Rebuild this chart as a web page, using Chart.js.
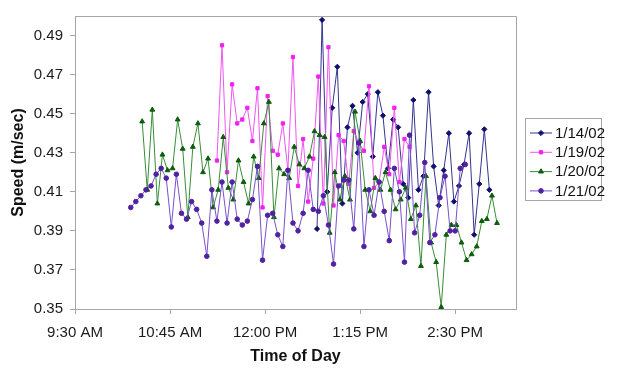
<!DOCTYPE html>
<html><head><meta charset="utf-8">
<script src="https://cdn.jsdelivr.net/npm/chart.js@4/dist/chart.umd.min.js"></script>
<style>html,body{margin:0;padding:0;background:#fff}#wrap{width:619px;height:371px}</style>
</head><body><div id="wrap"><canvas id="c" width="619" height="371"></canvas></div>
<script>
const seriesNames = ['1/14/02','1/19/02','1/20/02','1/21/02'];

const times0114 = ['12:41','12:45','12:49','12:53','12:57','13:01','13:05','13:09','13:13','13:17',
 '13:21','13:25','13:29','13:33','13:37','13:41','13:45','13:49','13:53','13:57',
 '14:01','14:05','14:09','14:13','14:17','14:21','14:25','14:29','14:33','14:37',
 '14:41','14:45','14:49','14:53','14:57'];
const speeds0114 = [0.391,0.498,0.410,0.453,0.474,0.404,0.443,0.454,0.430,0.456,
 0.460,0.428,0.461,0.449,0.422,0.447,0.443,0.414,0.407,0.457,
 0.411,0.418,0.461,0.423,0.403,0.421,0.440,0.405,0.413,0.424,
 0.440,0.388,0.414,0.442,0.411];

const times0119 = ['11:22','11:26','11:30','11:34','11:38','11:42','11:46','11:50','11:54','11:58',
 '12:02','12:06','12:10','12:14','12:18','12:22','12:26','12:30','12:34','12:38',
 '12:42','12:46','12:50','12:54','12:58','13:02','13:06','13:10','13:14','13:18',
 '13:22','13:26','13:30','13:34','13:38','13:42','13:46','13:50','13:54'];
const speeds0119 = [0.426,0.485,0.420,0.465,0.445,0.447,0.453,0.436,0.463,0.402,
 0.459,0.431,0.429,0.445,0.421,0.479,0.413,0.437,0.405,0.427,
 0.469,0.404,0.484,0.403,0.439,0.436,0.414,0.441,0.435,0.431,
 0.464,0.412,0.415,0.433,0.419,0.453,0.415,0.437,0.433];

const times0120 = ['10:23','10:27','10:31','10:35','10:39','10:43','10:47','10:51','10:55','10:59',
 '11:03','11:07','11:11','11:15','11:19','11:23','11:27','11:31','11:35','11:39',
 '11:43','11:47','11:51','11:55','11:59','12:03','12:07','12:11','12:15','12:19',
 '12:23','12:27','12:31','12:35','12:39','12:43','12:47','12:51','12:55','12:59',
 '13:03','13:07','13:11','13:15','13:19','13:23','13:27','13:31','13:35','13:39',
 '13:43','13:47','13:51','13:55','13:59','14:03','14:07','14:11','14:15','14:19',
 '14:23','14:27','14:31','14:35','14:39','14:43','14:47','14:51','14:55','14:59',
 '15:03'];
const speeds0120 = [0.446,0.411,0.452,0.404,0.429,0.421,0.422,0.447,0.432,0.397,
 0.433,0.445,0.420,0.427,0.402,0.411,0.438,0.412,0.406,0.426,
 0.415,0.404,0.428,0.417,0.445,0.456,0.397,0.422,0.419,0.417,
 0.433,0.424,0.422,0.428,0.441,0.439,0.438,0.389,0.420,0.406,
 0.418,0.406,0.451,0.436,0.411,0.400,0.417,0.411,0.420,0.411,
 0.401,0.406,0.412,0.396,0.403,0.372,0.418,0.384,0.374,0.351,
 0.388,0.393,0.393,0.384,0.375,0.378,0.382,0.395,0.396,0.408,
 0.394];

const times0121 = ['10:14','10:18','10:22','10:26','10:30','10:34','10:38','10:42','10:46','10:50',
 '10:54','10:58','11:02','11:06','11:10','11:14','11:18','11:22','11:26','11:30',
 '11:34','11:38','11:42','11:46','11:50','11:54','11:58','12:02','12:06','12:10',
 '12:14','12:18','12:22','12:26','12:30','12:34','12:38','12:42','12:46','12:50',
 '12:54','12:58','13:02','13:06','13:10','13:14','13:18','13:22','13:26','13:30',
 '13:34','13:38','13:42','13:46','13:50','13:54','13:58','14:02','14:06','14:10',
 '14:14','14:18','14:22','14:26','14:30','14:34','14:38'];
const speeds0121 = [0.402,0.405,0.408,0.411,0.413,0.419,0.422,0.417,0.392,0.419,
 0.399,0.396,0.405,0.401,0.394,0.377,0.411,0.395,0.415,0.394,
 0.415,0.396,0.393,0.395,0.406,0.423,0.375,0.398,0.399,0.388,
 0.382,0.421,0.394,0.390,0.399,0.421,0.401,0.400,0.408,0.393,
 0.373,0.413,0.416,0.416,0.391,0.435,0.382,0.411,0.398,0.415,
 0.400,0.385,0.422,0.410,0.374,0.439,0.389,0.398,0.425,0.384,
 0.388,0.407,0.418,0.390,0.390,0.422,0.424];

const xTickLabels = ['9:30 AM','10:45 AM','12:00 PM','1:15 PM','2:30 PM'];
const yTickValues = [0.35,0.37,0.39,0.41,0.43,0.45,0.47,0.49];
const xAxisMin = '9:30 AM';
const xAxisMax = '3:18 PM';
const yAxisMin = 0.35, yAxisMax = 0.50;

function toMin(s){
  const m = s.match(/(\d+):(\d+)\s*(AM|PM)?/);
  let h = +m[1], mi = +m[2];
  if (m[3]==='PM' && h<12) h+=12;
  if (m[3]==='AM' && h===12) h=0;
  return h*60+mi;
}
function fmt(v){
  let h = Math.floor(v/60), mi = Math.round(v%60);
  const ap = h>=12?'PM':'AM';
  let hh = h%12; if (hh===0) hh=12;
  return hh+':'+String(mi).padStart(2,'0')+' '+ap;
}
const xTickValues = xTickLabels.map(toMin);

const lineColors = ['#34348e','#f055f0','#388e38','#7a50cc'];
const markColors = ['#101070','#f020f0','#0c5c0c','#4f22a0'];
const styles = ['rectRot','rect','triangle','circle'];
const radii = [2.6,2.3,2.8,2.3];
const allTimes = [times0114,times0119,times0120,times0121];
const allSpeeds = [speeds0114,speeds0119,speeds0120,speeds0121];

const datasets = seriesNames.map((n,i)=>({
  label:n,
  data: allTimes[i].map((t,j)=>({x:toMin(t), y:allSpeeds[i][j]})),
  borderColor: lineColors[i], backgroundColor: markColors[i],
  pointBorderColor: markColors[i], pointBackgroundColor: markColors[i],
  pointStyle: styles[i], pointRadius: radii[i], pointBorderWidth: 1,
  borderWidth: 1, tension: 0, order: 4-i, clip: 6
}));

const FONT = '"Liberation Sans", Arial, sans-serif';

const framePlugin = {
  id:'frame',
  beforeDatasetsDraw(chart){
    const {ctx, chartArea:a} = chart;
    ctx.save(); ctx.strokeStyle='#a6a6a6'; ctx.lineWidth=1;
    ctx.beginPath();
    ctx.moveTo(Math.round(a.left)+0.5, Math.round(a.top)+0.5);
    ctx.lineTo(Math.round(a.right)+0.5, Math.round(a.top)+0.5);
    ctx.lineTo(Math.round(a.right)+0.5, Math.round(a.bottom)+0.5);
    ctx.stroke(); ctx.restore();
  },
  afterDraw(chart){
    const ctx = chart.ctx;
    ctx.save();
    ctx.strokeStyle='#a6a6a6'; ctx.lineWidth=1;
    ctx.strokeRect(525.5,118.5,76,82);
    seriesNames.forEach((name,i)=>{
      const y = 133 + i*19.3;
      ctx.strokeStyle=lineColors[i]; ctx.lineWidth=1;
      ctx.beginPath(); ctx.moveTo(530,y); ctx.lineTo(552,y); ctx.stroke();
      ctx.fillStyle=markColors[i]; ctx.strokeStyle=markColors[i];
      Chart.helpers.drawPoint(ctx,{pointStyle:styles[i],radius:radii[i],borderWidth:1,rotation:0},541,y);
      ctx.fillStyle='#111'; ctx.font='15px '+FONT; ctx.textBaseline='middle'; ctx.textAlign='left';
      ctx.fillText(name,555,y+0.5);
    });
    ctx.restore();
  }
};

new Chart(document.getElementById('c'),{
  type:'line',
  data:{datasets},
  plugins:[framePlugin],
  options:{
    responsive:false, animation:false,
    layout:{padding:{top:7,right:103,left:0,bottom:0}},
    plugins:{legend:{display:false},tooltip:{enabled:false}},
    scales:{
      x:{type:'linear', min:toMin(xAxisMin), max:toMin(xAxisMax),
        afterBuildTicks:s=>{s.ticks = xTickValues.map(v=>({value:v}));},
        afterFit:s=>{s.height=62;},
        ticks:{callback:v=>fmt(v), font:{family:FONT,size:15}, color:'#1a1a1a', padding:10, maxRotation:0, autoSkip:false},
        grid:{drawOnChartArea:false, tickLength:5, color:'#a6a6a6'},
        border:{color:'#a6a6a6'},
        title:{display:true, text:'Time of Day', font:{family:FONT,size:16,weight:'bold'}, color:'#111', padding:{top:0,bottom:5}}
      },
      y:{type:'linear', min:yAxisMin, max:yAxisMax,
        afterBuildTicks:s=>{s.ticks = yTickValues.map(v=>({value:v}));},
        afterFit:s=>{s.width=75;},
        ticks:{callback:v=>v.toFixed(2), font:{family:FONT,size:15}, color:'#1a1a1a', padding:7},
        grid:{drawOnChartArea:false, tickLength:5, color:'#a6a6a6'},
        border:{color:'#a6a6a6'},
        title:{display:true, text:'Speed (m/sec)', font:{family:FONT,size:16,weight:'bold'}, color:'#111', padding:{top:9,bottom:0}}
      }
    }
  }
});
</script></body></html>
